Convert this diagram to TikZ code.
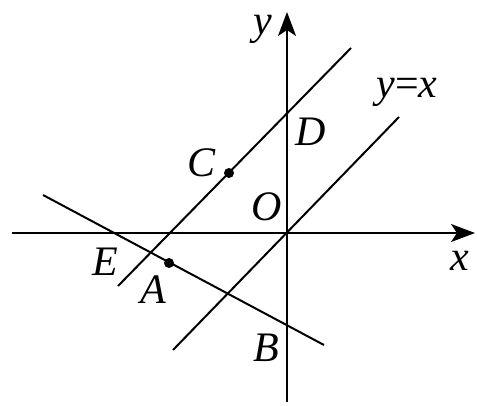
\documentclass[tikz,border=0pt]{standalone}
\usepackage{fontspec}
\setmainfont{Liberation Serif}
\usetikzlibrary{arrows.meta}
\begin{document}
\begin{tikzpicture}[x=1pt,y=-1pt,
  ln/.style={line width=2pt,line cap=butt},
  ax/.style={line width=2pt,-{Stealth[length=24pt,width=18pt,inset=6pt]}},
  lbl/.style={font=\fontsize{42}{44}\selectfont,inner sep=0pt},
  dot/.style={circle,fill=black,inner sep=0pt,minimum size=10pt}]
\useasboundingbox (0,0) rectangle (477,406);
% axes
\coordinate (xs) at (12,233);
\coordinate (xe) at (475,233);
\coordinate (ys) at (287,402);
\coordinate (ye) at (287,12);
\draw[ax] (xs) -- (xe);
\draw[ax] (ys) -- (ye);
% lines
\coordinate (yx1) at (173,350);
\coordinate (yx2) at (399,117);
\draw[ln] (yx1) -- (yx2);
\coordinate (cd1) at (118,286);
\coordinate (cd2) at (351,48);
\draw[ln] (cd1) -- (cd2);
\coordinate (ab1) at (43,195);
\coordinate (ab2) at (324,345);
\draw[ln] (ab1) -- (ab2);
% points
\node[dot] (A) at (169,263) {};
\node[dot] (C) at (229,173) {};
% labels
\node[lbl] (ly) at (263,29) {\textit{y}};
\node[lbl] (lyx) at (407,92) {\textit{y}=\textit{x}};
\node[lbl] (lD) at (311,132) {\textit{D}};
\node[lbl] (lC) at (202,163) {\textit{C}};
\node[lbl] (lO) at (267,207) {\textit{O}};
\node[lbl] (lx) at (460,261) {\textit{x}};
\node[lbl] (lE) at (105,262) {\textit{E}};
\node[lbl] (lA) at (153,290) {\textit{A}};
\node[lbl] (lB) at (266,348) {\textit{B}};
\end{tikzpicture}
\end{document}
